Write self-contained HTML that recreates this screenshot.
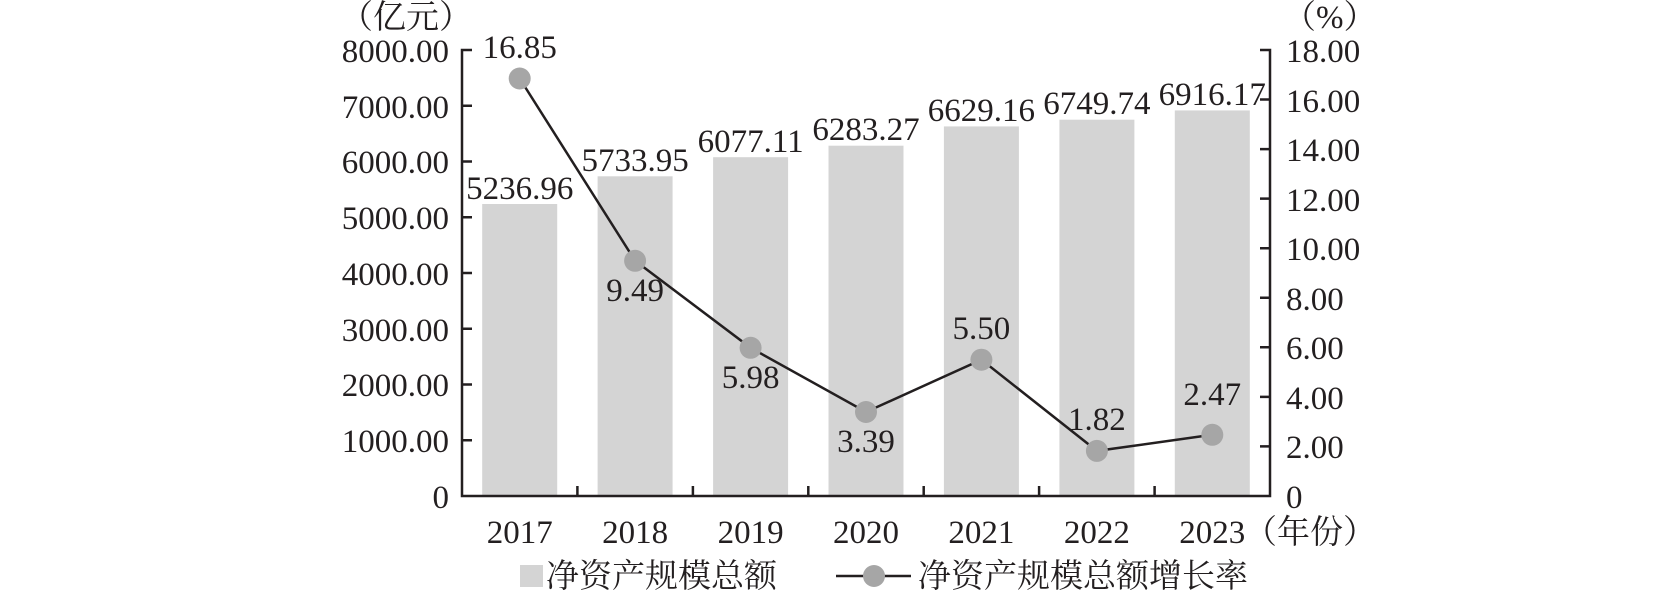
<!DOCTYPE html>
<html><head><meta charset="utf-8"><style>
html,body{margin:0;padding:0;background:#fff;}
svg text{font-family:"Liberation Serif","Noto Serif CJK SC",serif;font-size:33px;fill:#231f20;}
.cn{font-family:"Liberation Serif","Noto Serif CJK SC","Noto Sans CJK SC",serif;font-size:33px;}
</style></head><body>
<svg width="1654" height="591" viewBox="0 0 1654 591" xmlns="http://www.w3.org/2000/svg">
<g fill="#d4d4d4">
<rect x="482.2" y="204" width="75" height="292"/>
<rect x="597.6" y="176.3" width="75" height="319.7"/>
<rect x="713.1" y="157.2" width="75" height="338.8"/>
<rect x="828.5" y="145.7" width="75" height="350.3"/>
<rect x="943.9" y="126.4" width="75" height="369.6"/>
<rect x="1059.4" y="119.7" width="75" height="376.3"/>
<rect x="1174.8" y="110.4" width="75" height="385.6"/>
</g>
<g stroke="#231f20" stroke-width="2.5" fill="none">
<path d="M472 50H462V496H1270V50H1260"/>
<path d="M462 440.25H472M462 384.5H472M462 328.75H472M462 273H472M462 217.25H472M462 161.5H472M462 105.75H472"/>
<path d="M1270 446.4H1260M1270 396.9H1260M1270 347.3H1260M1270 297.8H1260M1270 248.2H1260M1270 198.6H1260M1270 149.1H1260M1270 99.5H1260"/>
<path d="M577.4 496V486M692.9 496V486M808.3 496V486M923.7 496V486M1039.1 496V486M1154.6 496V486"/>
</g>
<polyline points="519.7,78.5 635.1,260.8 750.6,347.8 866,412 981.4,359.7 1096.9,450.9 1212.3,434.8" fill="none" stroke="#231f20" stroke-width="2.5"/>
<g fill="#a6a6a6">
<circle cx="519.7" cy="78.5" r="11"/><circle cx="635.1" cy="260.8" r="11"/><circle cx="750.6" cy="347.8" r="11"/><circle cx="866" cy="412" r="11"/><circle cx="981.4" cy="359.7" r="11"/><circle cx="1096.9" cy="450.9" r="11"/><circle cx="1212.3" cy="434.8" r="11"/>
</g>
<g text-anchor="end">
<text x="449" y="508">0</text><text x="449" y="452">1000.00</text><text x="449" y="396">2000.00</text><text x="449" y="341">3000.00</text><text x="449" y="285">4000.00</text><text x="449" y="229">5000.00</text><text x="449" y="173">6000.00</text><text x="449" y="118">7000.00</text><text x="449" y="62">8000.00</text>
</g>
<g>
<text x="1286" y="508">0</text><text x="1286" y="458">2.00</text><text x="1286" y="409">4.00</text><text x="1286" y="359">6.00</text><text x="1286" y="310">8.00</text><text x="1286" y="260">10.00</text><text x="1286" y="211">12.00</text><text x="1286" y="161">14.00</text><text x="1286" y="112">16.00</text><text x="1286" y="62">18.00</text>
</g>
<text class="cn" x="340" y="28">（亿元）</text>
<text class="cn" x="1283" y="28">（%）</text>
<g text-anchor="middle">
<text x="519.7" y="543">2017</text><text x="635.1" y="543">2018</text><text x="750.6" y="543">2019</text><text x="866" y="543">2020</text><text x="981.4" y="543">2021</text><text x="1096.9" y="543">2022</text><text x="1212.3" y="543">2023</text>
<text x="519.7" y="199">5236.96</text><text x="635.1" y="171">5733.95</text><text x="750.6" y="152">6077.11</text><text x="866" y="140">6283.27</text><text x="981.4" y="121">6629.16</text><text x="1096.9" y="114">6749.74</text><text x="1212.3" y="105">6916.17</text>
<text x="519.7" y="58">16.85</text><text x="635.1" y="301">9.49</text><text x="750.6" y="388">5.98</text><text x="866" y="452">3.39</text><text x="981.4" y="339">5.50</text><text x="1096.9" y="430">1.82</text><text x="1212.3" y="405">2.47</text>
</g>
<text class="cn" x="1244" y="543">（年份）</text>
<rect x="520" y="565" width="23" height="22" fill="#d4d4d4"/>
<text class="cn" x="546" y="587">净资产规模总额</text>
<line x1="836" y1="576" x2="911" y2="576" stroke="#231f20" stroke-width="2.5"/>
<circle cx="874" cy="576" r="11" fill="#a6a6a6"/>
<text class="cn" x="918" y="587">净资产规模总额增长率</text>
</svg>
</body></html>
